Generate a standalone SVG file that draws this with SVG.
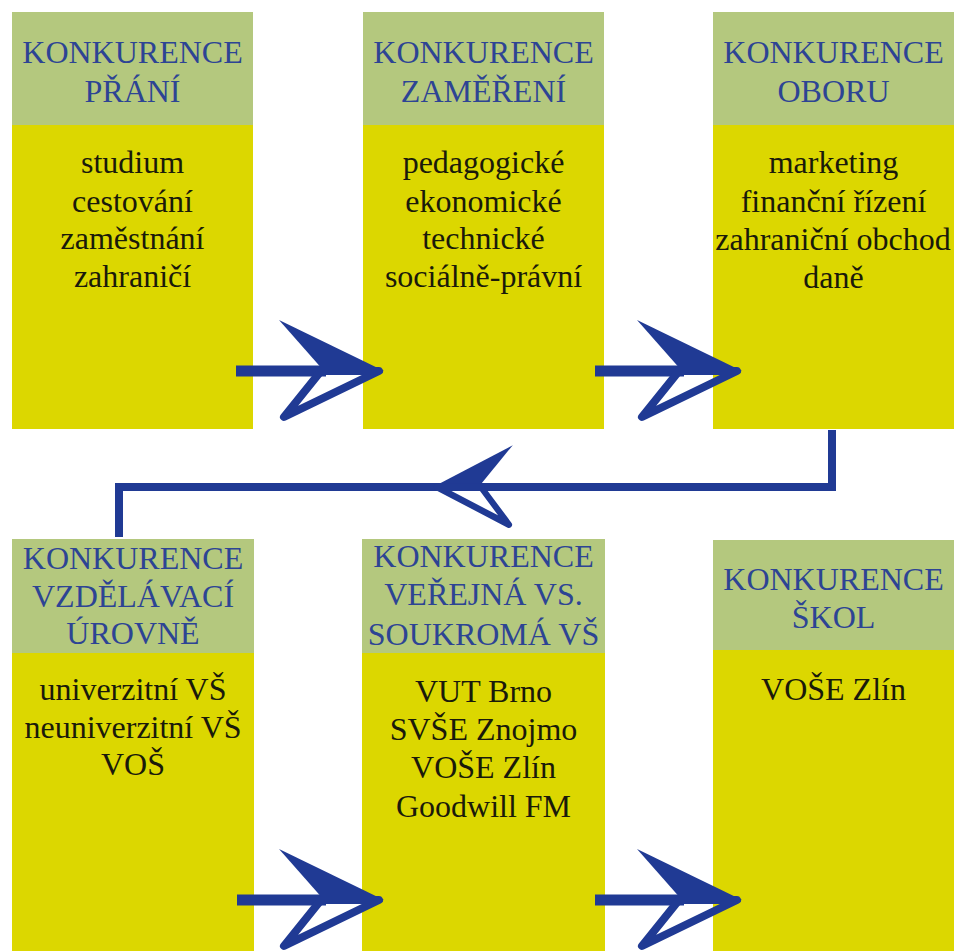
<svg xmlns="http://www.w3.org/2000/svg" xmlns:xlink="http://www.w3.org/1999/xlink" width="954" height="951" viewBox="0 0 954 951">
<style>
.hd{fill:#b4c87e}
.bd{fill:#dcd700}
.ht{fill:#2d4494}
.bt{fill:#1a1a0a}
.ln{fill:none;stroke:#203a94;stroke-linecap:butt;stroke-linejoin:miter}
.f1{font-family:"Liberation Serif","Times New Roman",serif;font-size:32px;text-anchor:middle}
</style>
<defs>
<g id="ah">
<path d="M-105,-51 L0,0 L-60,0 Z" fill="#203a94"/>
<path d="M-63,0 L-100,46 L-5,0 Z" fill="none" stroke="#203a94" stroke-width="8" stroke-linejoin="round"/>
</g>
</defs>
<rect width="954" height="951" fill="#ffffff"/>

<g id="node-prani" class="f1">
<rect class="bd" x="12" y="12" width="241" height="417"/>
<rect class="hd" x="12" y="12" width="241" height="113"/>
<text class="ht" x="132.5" y="63">KONKURENCE</text>
<text class="ht" x="132.5" y="102">PŘÁNÍ</text>
<text class="bt" x="132.5" y="173">studium</text>
<text class="bt" x="132.5" y="212">cestování</text>
<text class="bt" x="132.5" y="249">zaměstnání</text>
<text class="bt" x="132.5" y="287">zahraničí</text>
</g>

<g id="node-zamereni" class="f1">
<rect class="bd" x="363" y="12" width="241" height="417"/>
<rect class="hd" x="363" y="12" width="241" height="113"/>
<text class="ht" x="483.5" y="63">KONKURENCE</text>
<text class="ht" x="483.5" y="102">ZAMĚŘENÍ</text>
<text class="bt" x="483.5" y="173">pedagogické</text>
<text class="bt" x="483.5" y="212">ekonomické</text>
<text class="bt" x="483.5" y="249">technické</text>
<text class="bt" x="483.5" y="287">sociálně-právní</text>
</g>

<g id="node-oboru" class="f1">
<rect class="bd" x="713" y="12" width="241" height="417"/>
<rect class="hd" x="713" y="12" width="241" height="113"/>
<text class="ht" x="833.5" y="63">KONKURENCE</text>
<text class="ht" x="833.5" y="102">OBORU</text>
<text class="bt" x="833.5" y="173">marketing</text>
<text class="bt" x="833.5" y="212">finanční řízení</text>
<text class="bt" x="833" y="250">zahraniční obchod</text>
<text class="bt" x="833.5" y="288">daně</text>
</g>

<g id="node-urovne" class="f1">
<rect class="bd" x="12" y="539" width="242" height="412"/>
<rect class="hd" x="12" y="539" width="242" height="114"/>
<text class="ht" x="133" y="569">KONKURENCE</text>
<text class="ht" x="133" y="607">VZDĚLÁVACÍ</text>
<text class="ht" x="133" y="644">ÚROVNĚ</text>
<text class="bt" x="133" y="700">univerzitní VŠ</text>
<text class="bt" x="133" y="738">neuniverzitní VŠ</text>
<text class="bt" x="133" y="775">VOŠ</text>
</g>

<g id="node-verejna" class="f1">
<rect class="bd" x="362" y="539" width="243" height="412"/>
<rect class="hd" x="362" y="539" width="243" height="114"/>
<text class="ht" x="483.5" y="567">KONKURENCE</text>
<text class="ht" x="483.5" y="605">VEŘEJNÁ VS.</text>
<text class="ht" x="483.5" y="645">SOUKROMÁ VŠ</text>
<text class="bt" x="483.5" y="702">VUT Brno</text>
<text class="bt" x="483.5" y="740">SVŠE Znojmo</text>
<text class="bt" x="483.5" y="778">VOŠE Zlín</text>
<text class="bt" x="483.5" y="817">Goodwill FM</text>
</g>

<g id="node-skol" class="f1">
<rect class="bd" x="713" y="540" width="241" height="411"/>
<rect class="hd" x="713" y="540" width="241" height="110"/>
<text class="ht" x="833.5" y="590">KONKURENCE</text>
<text class="ht" x="833.5" y="628">ŠKOL</text>
<text class="bt" x="833.5" y="700">VOŠE Zlín</text>
</g>

<g id="connectors">
<line class="ln" x1="236" y1="371" x2="326" y2="371" stroke-width="11"/>
<use xlink:href="#ah" transform="translate(384,371)"/>
<line class="ln" x1="595" y1="371" x2="684" y2="371" stroke-width="11"/>
<use xlink:href="#ah" transform="translate(742,371)"/>
<line class="ln" x1="237" y1="900" x2="326" y2="900" stroke-width="11"/>
<use xlink:href="#ah" transform="translate(384,900)"/>
<line class="ln" x1="595" y1="900" x2="684" y2="900" stroke-width="11"/>
<use xlink:href="#ah" transform="translate(742,900)"/>
<path class="ln" d="M832,430 V487 H119 V537" stroke-width="8"/>
<use xlink:href="#ah" transform="translate(433,487) scale(-0.76,0.82)"/>
</g>
</svg>
